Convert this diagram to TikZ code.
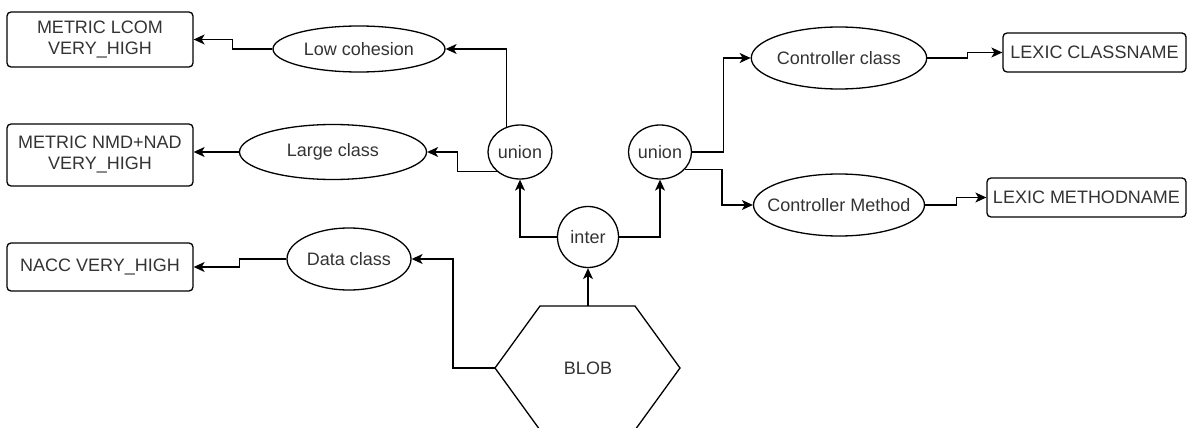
\documentclass[tikz,border=0pt]{standalone}
\usepackage{fontspec}
\setmainfont{Liberation Sans}
\usetikzlibrary{shapes.geometric,arrows.meta}
\definecolor{txt}{RGB}{51,51,51}
\begin{document}
\begin{tikzpicture}[x=1pt,y=-1pt,
  every node/.style={text=txt,font=\fontsize{18}{21}\selectfont,inner sep=0pt},
  box/.style={draw=black,line width=1.3pt,rounded corners=4pt,align=center},
  ell/.style={draw=black,line width=1.3pt,ellipse},
  arr/.style={draw=black,line width=1.3pt,-{Stealth[length=11pt,width=10pt,inset=3pt]}},
  ln/.style={draw=black,line width=1.3pt}]
\useasboundingbox (0,0) rectangle (1187,428);
% boxes
\node[box,minimum width=186pt,minimum height=55pt] (lcom) at (100,39.5) {METRIC LCOM\\VERY\_HIGH};
\node[box,minimum width=186pt,minimum height=62pt] (nmd) at (100,155) {METRIC NMD+NAD\\VERY\_HIGH};
\node[box,minimum width=186pt,minimum height=48pt] (nacc) at (100,267) {NACC VERY\_HIGH};
\node[box,minimum width=183pt,minimum height=39pt] (lexc) at (1094.5,52.5) {LEXIC CLASSNAME};
\node[box,minimum width=199pt,minimum height=39pt] (lexm) at (1086.5,197.5) {LEXIC METHODNAME};
% ellipses
\node[ell,minimum width=172pt,minimum height=46pt] (lowc) at (359,49) {Low cohesion};
\node[ell,minimum width=187pt,minimum height=55pt] (largec) at (333,152) {Large class};
\node[ell,minimum width=124pt,minimum height=62pt] (datac) at (349,259) {Data class};
\node[ell,minimum width=171pt,minimum height=62pt] (ctrlc) at (839,58) {Controller class};
\node[ell,minimum width=171pt,minimum height=62pt,inner xsep=-16pt] (ctrlm) at (839,205) {Controller Method};
\node[ell,minimum width=64pt,minimum height=54pt] (uL) at (520,152) {union};
\node[ell,minimum width=63pt,minimum height=54pt] (uR) at (660,152) {union};
\node[ell,minimum width=61pt,minimum height=61pt] (inter) at (588,237) {inter};
% hexagon
\node (blob) at (588,368) {BLOB};
\draw[ln] (540,306) -- (635,306) -- (680,368) -- (635,430) -- (540,430) -- (495,368) -- cycle;
\coordinate (blobtop) at (588,306);
\coordinate (blobleft) at (495,368);
% connectors
\draw[arr] (lowc.west) -- ++(-40,0) |- (lcom.east);
\draw[arr] (largec.west) -- (nmd.east |- largec.west);
\draw[arr] (datac.west) -- ++(-47,0) |- (nacc.east);
\draw[arr] (uL.118) |- (lowc.east);
\draw[arr] (uL.220) -- ++(-39,0) |- (largec.east);
\draw[arr] (inter.west) -| (uL.south);
\draw[arr] (inter.east) -| (uR.south);
\draw[arr] (blobtop) -- (inter.south);
\draw[arr] (blobleft) -- ++(-42,0) |- (datac.east);
\draw[arr] (uR.east) -- ++(31,0) |- (ctrlc.west);
\draw[arr] (uR.-35) -- ++(37,0) |- (ctrlm.west);
\draw[arr] (ctrlc.east) -- ++(40,0) |- (lexc.west);
\draw[arr] (ctrlm.east) -- ++(31,0) |- (lexm.west);
\end{tikzpicture}
\end{document}
